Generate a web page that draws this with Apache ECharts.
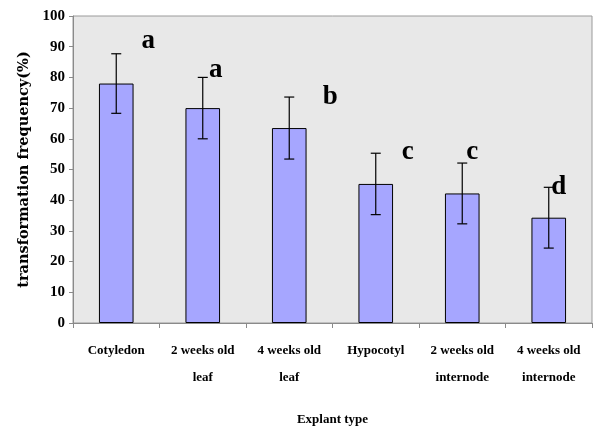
<!DOCTYPE html>
<html><head><meta charset="utf-8">
<script src="https://cdn.jsdelivr.net/npm/echarts@6/dist/echarts.min.js"></script>
<style>html,body{margin:0;padding:0;background:#fff}#c{width:595px;height:427px}</style>
</head><body><div id="c"></div>
<script>
const categories = ['Cotyledon', '2 weeks old\nleaf', '4 weeks old\nleaf', 'Hypocotyl', '2 weeks old\ninternode', '4 weeks old\ninternode'];
const means = [78, 70, 63.5, 45.3, 42.2, 34.3];
const errors = [9.7, 10, 10.1, 10, 9.9, 9.9];
const letters = ['a', 'a', 'b', 'c', 'c', 'd'];
const letterY = [92, 82.4, 73.6, 55.7, 55.7, 44.3];
const letterDx = [32, 13, 41, 32, 10, 10];
const yTicks = [0, 10, 20, 30, 40, 50, 60, 70, 80, 90, 100];

const serif = '"Liberation Serif", "Times New Roman", serif';
const chart = echarts.init(document.getElementById('c'));
chart.setOption({
  animation: false,
  grid: { left: 73, top: 16, right: 3, bottom: 104, outerBoundsMode: 'none', containLabel: false, show: true, backgroundColor: '#e8e8e8', borderColor: '#9a9a9a', borderWidth: 1 },
  xAxis: {
    type: 'category', data: categories,
    name: 'Explant type', nameLocation: 'middle', nameGap: 90,
    nameTextStyle: { fontFamily: serif, fontWeight: 'bold', fontSize: 13, color: '#000' },
    axisLine: { lineStyle: { color: '#8a8a8a' } },
    axisTick: { show: true, length: 5, lineStyle: { color: '#8a8a8a' } },
    axisLabel: { interval: 0, margin: 14, fontFamily: serif, fontWeight: 'bold', fontSize: 13, color: '#000', lineHeight: 27 }
  },
  yAxis: {
    type: 'value', min: yTicks[0], max: yTicks[yTicks.length - 1], interval: 10,
    name: 'transformation frequency(%)', nameLocation: 'middle', nameGap: 40,
    nameTextStyle: { fontFamily: '"DejaVu Serif", serif', fontWeight: 'bold', fontSize: 14.5, color: '#000' },
    axisLine: { show: true, lineStyle: { color: '#8a8a8a' } },
    axisTick: { show: true, length: 4, lineStyle: { color: '#8a8a8a' } },
    splitLine: { show: false },
    axisLabel: { margin: 8, fontFamily: serif, fontWeight: 'bold', fontSize: 15, color: '#000' }
  },
  series: [
    {
      type: 'bar', data: means, barWidth: '40%',
      itemStyle: { color: '#a6a6ff', borderColor: '#000', borderWidth: 1 }
    },
    {
      type: 'custom',
      data: means.map((m, i) => [i, m - errors[i], m + errors[i]]),
      renderItem: function (params, api) {
        const lo = api.coord([api.value(0), api.value(1)]);
        const hi = api.coord([api.value(0), api.value(2)]);
        const hw = 5;
        const st = { stroke: '#000', lineWidth: 1.2 };
        return { type: 'group', children: [
          { type: 'line', shape: { x1: lo[0], y1: lo[1], x2: hi[0], y2: hi[1] }, style: st },
          { type: 'line', shape: { x1: lo[0] - hw, y1: lo[1], x2: lo[0] + hw, y2: lo[1] }, style: st },
          { type: 'line', shape: { x1: hi[0] - hw, y1: hi[1], x2: hi[0] + hw, y2: hi[1] }, style: st }
        ]};
      },
      z: 5
    },
    {
      type: 'custom',
      data: letterY.map((y, i) => [i, y]),
      renderItem: function (params, api) {
        const i = params.dataIndex;
        const p = api.coord([api.value(0), api.value(1)]);
        return { type: 'text', x: p[0] + letterDx[i], y: p[1], style: {
          text: letters[i], fill: '#000', font: 'bold 27px ' + serif, align: 'center', verticalAlign: 'middle' } };
      },
      z: 6
    }
  ]
});
</script></body></html>
